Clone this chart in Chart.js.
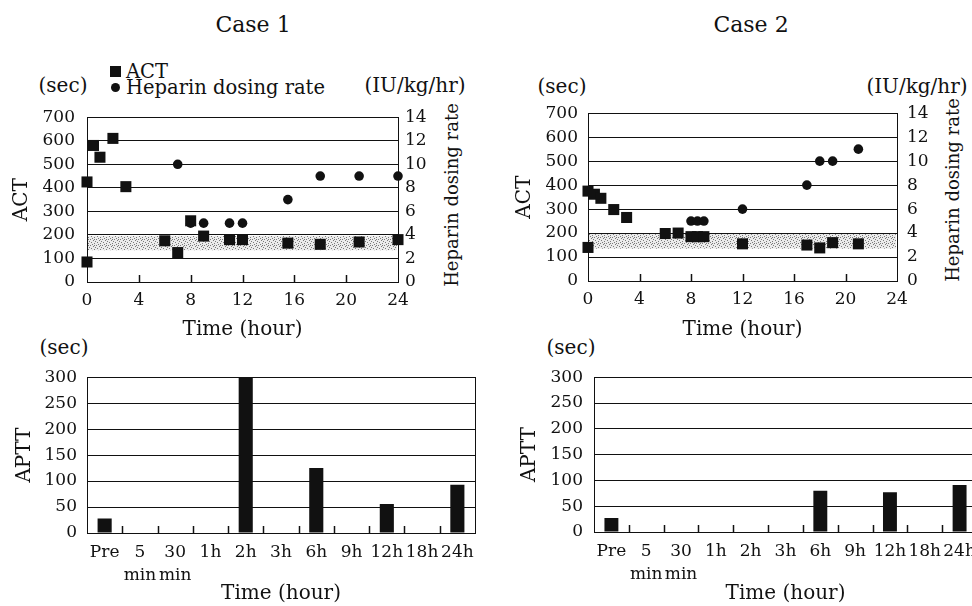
<!DOCTYPE html>
<html>
<head>
<meta charset="utf-8">
<script src="https://cdn.jsdelivr.net/npm/chart.js@4"></script>
<style>
html, body { margin: 0; padding: 0; width: 972px; height: 606px; overflow: hidden; background: #fff; }
body { position: relative; font-family: "DejaVu Serif", serif; color: #111; }
.box { position: absolute; }
.txt { position: absolute; white-space: nowrap; line-height: 1; transform: translate(-50%, -50%); }
.leg { position: absolute; white-space: nowrap; line-height: 1; transform: translate(0, -50%); font-size: 19.5px; }
.rot { transform: translate(-50%, -50%) rotate(-90deg); }
.sq { position: absolute; width: 11px; height: 11px; background: #111; }
.dot { position: absolute; width: 9px; height: 9px; background: #111; border-radius: 50%; }
</style>
</head>
<body>

<div class="txt" style="left:253px; top:25px; font-size:22px">Case 1</div>
<div class="txt" style="left:751px; top:25px; font-size:22px">Case 2</div>

<!-- legend -->
<div class="sq" style="left:110px; top:66px"></div>
<div class="leg" style="left:126px; top:72px">ACT</div>
<div class="dot" style="left:111px; top:83px"></div>
<div class="leg" style="left:126px; top:88px">Heparin dosing rate</div>

<!-- units -->
<div class="txt" style="left:63px; top:85px; font-size:20px">(sec)</div>
<div class="txt" style="left:415px; top:85px; font-size:20px">(IU/kg/hr)</div>
<div class="txt" style="left:562px; top:86px; font-size:20px">(sec)</div>
<div class="txt" style="left:917px; top:86px; font-size:20px">(IU/kg/hr)</div>
<div class="txt" style="left:64px; top:347px; font-size:20px">(sec)</div>
<div class="txt" style="left:571px; top:347px; font-size:20px">(sec)</div>

<!-- right axis titles -->
<div class="txt rot" style="left:452px; top:195px; font-size:18px">Heparin dosing rate</div>
<div class="txt rot" style="left:953px; top:190px; font-size:18px">Heparin dosing rate</div>

<div class="box" style="left:0; top:95px; width:486px; height:247px"><canvas id="act1"></canvas></div>
<div class="box" style="left:486px; top:93px; width:486px; height:249px"><canvas id="act2"></canvas></div>
<div class="box" style="left:0; top:357px; width:486px; height:249px"><canvas id="aptt1"></canvas></div>
<div class="box" style="left:486px; top:356px; width:500px; height:250px"><canvas id="aptt2"></canvas></div>

<script>
// ---- data ----
const case1ActHours = [0, 0, 0.5, 1, 2, 3, 6, 7, 8, 9, 11, 12, 15.5, 18, 21, 24];
const case1Act = [425, 85, 580, 530, 610, 405, 175, 125, 260, 195, 180, 180, 165, 160, 170, 180];
const case1HepHours = [7, 8, 9, 11, 12, 15.5, 18, 21, 24];
const case1Hep = [10, 5, 5, 5, 5, 7, 9, 9, 9];

const case2ActHours = [0, 0, 0.5, 1, 2, 3, 6, 7, 8, 8.5, 9, 12, 17, 18, 19, 21];
const case2Act = [375, 140, 362, 345, 298, 265, 198, 200, 185, 185, 185, 155, 150, 138, 160, 155];
const case2HepHours = [8, 8.5, 9, 12, 17, 18, 19, 21];
const case2Hep = [5, 5, 5, 6, 8, 10, 10, 11];

// target ACT range (shaded band)
const bandLow = 135;
const bandHigh = 200;

const timeLabels = ['Pre', ['5', 'min'], ['30', 'min'], '1h', '2h', '3h', '6h', '9h', '12h', '18h', '24h'];
const case1Aptt = [28, null, null, null, 300, null, 125, null, 56, null, 93];
const case2Aptt = [27, null, null, null, null, null, 80, null, 77, null, 91];

Chart.defaults.font.family = '"DejaVu Serif", serif';
Chart.defaults.color = '#111';
Chart.defaults.animation = false;

const ink = '#111';

// box round the plot area
const frame = {
    id: 'frame',
    afterDraw(chart) {
        const a = chart.chartArea;
        const ctx = chart.ctx;
        ctx.save();
        ctx.strokeStyle = ink;
        ctx.lineWidth = 1;
        ctx.strokeRect(Math.round(a.left) + 0.5, Math.round(a.top) + 0.5,
            Math.round(a.right - a.left), Math.round(a.bottom - a.top));
        ctx.restore();
    }
};

// short tick marks pointing up into the plot
const innerTicks = {
    id: 'innerTicks',
    afterDatasetsDraw(chart) {
        const x = chart.scales.x;
        const bottom = chart.chartArea.bottom;
        let pos = [];
        if (x.type === 'category') {
            for (let i = 0; i < x.ticks.length - 1; i++) {
                pos.push((x.getPixelForTick(i) + x.getPixelForTick(i + 1)) / 2);
            }
        } else {
            x.ticks.forEach(t => {
                if (t.value > x.min && t.value < x.max) pos.push(x.getPixelForValue(t.value));
            });
        }
        const ctx = chart.ctx;
        ctx.save();
        ctx.strokeStyle = ink;
        ctx.lineWidth = 1.5;
        pos.forEach(p => {
            ctx.beginPath();
            ctx.moveTo(Math.round(p) + 0.5, bottom);
            ctx.lineTo(Math.round(p) + 0.5, bottom - 7);
            ctx.stroke();
        });
        ctx.restore();
    }
};

// stippled grey band for the target range
function stipple() {
    const c = document.createElement('canvas');
    c.width = 6; c.height = 6;
    const g = c.getContext('2d');
    g.fillStyle = '#ebebeb';
    g.fillRect(0, 0, 6, 6);
    g.fillStyle = '#7a7a7a';
    [[0, 0], [3, 1], [1, 3], [4, 4], [5, 2], [2, 5], [4, 0]].forEach(p => g.fillRect(p[0], p[1], 1, 1));
    return c;
}
const band = {
    id: 'band',
    beforeDatasetsDraw(chart) {
        const y = chart.scales.y;
        const a = chart.chartArea;
        const ctx = chart.ctx;
        ctx.save();
        ctx.fillStyle = ctx.createPattern(stipple(), 'repeat');
        const top = y.getPixelForValue(bandHigh);
        const bot = y.getPixelForValue(bandLow);
        ctx.fillRect(a.left + 1, top + 1, a.right - a.left - 2, bot - top - 1);
        ctx.restore();
    }
};

function pts(xs, ys) {
    return xs.map((x, i) => ({ x: x, y: ys[i] }));
}

function actChart(id, actHours, act, hepHours, hep, p) {
    new Chart(document.getElementById(id), {
        type: 'scatter',
        data: {
            datasets: [{
                label: 'ACT',
                data: pts(actHours, act),
                yAxisID: 'y',
                pointStyle: 'rect',
                pointRadius: 7.8,
                backgroundColor: ink,
                borderWidth: 0,
                clip: false
            }, {
                label: 'Heparin dosing rate',
                data: pts(hepHours, hep),
                yAxisID: 'y2',
                pointStyle: 'circle',
                pointRadius: 4.8,
                backgroundColor: ink,
                borderWidth: 0,
                clip: false
            }]
        },
        options: {
            responsive: true,
            maintainAspectRatio: false,
            layout: { padding: 0 },
            plugins: { legend: { display: false }, tooltip: { enabled: false } },
            scales: {
                x: {
                    type: 'linear',
                    min: 0, max: 24,
                    ticks: { stepSize: 4, autoSkip: false, padding: 8, font: { size: 17 } },
                    grid: { display: false, drawTicks: false },
                    border: { color: ink, width: 1 },
                    title: { display: true, text: 'Time (hour)', font: { size: 20 }, padding: { top: 0, bottom: 0 } },
                    afterFit(s) { s.height = p.xh; }
                },
                y: {
                    position: 'left',
                    min: 0, max: 700,
                    ticks: { stepSize: 100, autoSkip: false, padding: p.yPad, font: { size: 17 } },
                    grid: { color: ink, lineWidth: 1, drawTicks: false },
                    border: { color: ink, width: 1 },
                    title: { display: true, text: 'ACT', font: { size: 20 }, padding: { top: p.yTitle, bottom: 0 } },
                    afterFit(s) { s.width = p.yw; }
                },
                y2: {
                    position: 'right',
                    min: 0, max: 14,
                    ticks: { stepSize: 2, autoSkip: false, padding: p.y2Pad, font: { size: 17 } },
                    grid: { display: false, drawTicks: false },
                    border: { color: ink, width: 1 },
                    afterFit(s) { s.width = p.y2w; }
                }
            }
        },
        plugins: [band, innerTicks]
    });
}

function apttChart(id, values, p) {
    new Chart(document.getElementById(id), {
        type: 'bar',
        data: {
            labels: timeLabels,
            datasets: [{
                label: 'APTT',
                data: values,
                backgroundColor: ink,
                barPercentage: 0.4,
                categoryPercentage: 1
            }]
        },
        options: {
            responsive: true,
            maintainAspectRatio: false,
            layout: { padding: { top: 0, left: 0, right: p.right, bottom: 0 } },
            plugins: { legend: { display: false }, tooltip: { enabled: false } },
            scales: {
                x: {
                    ticks: { padding: 9, maxRotation: 0, autoSkip: false, font: { size: 17, lineHeight: 1.3 } },
                    grid: { display: false, drawTicks: false },
                    border: { color: ink, width: 1 },
                    title: { display: true, text: 'Time (hour)', font: { size: 20 }, padding: { top: 0, bottom: 0 } },
                    afterFit(s) { s.height = p.xh; }
                },
                y: {
                    min: 0, max: 300,
                    ticks: { stepSize: 50, autoSkip: false, padding: p.yPad, font: { size: 17 } },
                    grid: { color: ink, lineWidth: 1, drawTicks: false },
                    border: { color: ink, width: 1 },
                    title: { display: true, text: 'APTT', font: { size: 20 }, padding: { top: p.yTitle, bottom: 0 } },
                    afterFit(s) { s.width = p.yw; }
                }
            }
        },
        plugins: [frame, innerTicks]
    });
}

actChart('act1', case1ActHours, case1Act, case1HepHours, case1Hep,
    { xh: 60, yw: 87, yPad: 12, yTitle: 10, y2w: 88, y2Pad: 7 });
actChart('act2', case2ActHours, case2Act, case2HepHours, case2Hep,
    { xh: 61, yw: 102, yPad: 10, yTitle: 27, y2w: 75, y2Pad: 10 });
apttChart('aptt1', case1Aptt, { right: 11, xh: 73, yw: 87, yPad: 10, yTitle: 13 });
apttChart('aptt2', case2Aptt, { right: 9, xh: 74, yw: 108, yPad: 11, yTitle: 32 });
</script>
</body>
</html>
